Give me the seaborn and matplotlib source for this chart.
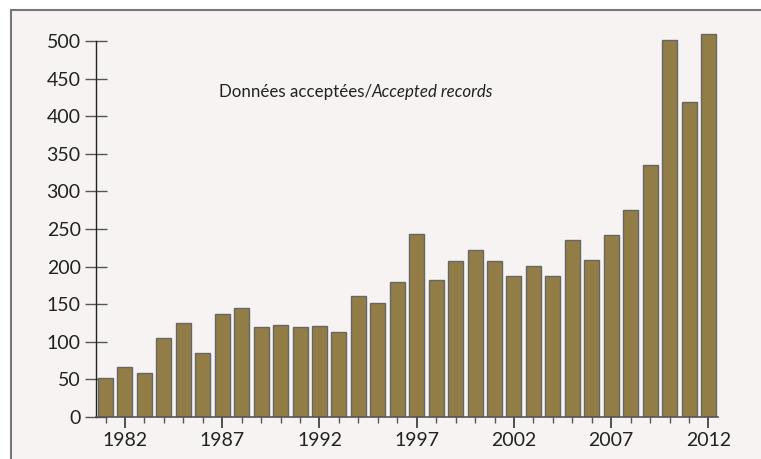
import matplotlib.pyplot as plt
import seaborn as sns
import pandas as pd
from matplotlib.patches import Rectangle
from matplotlib.ticker import MultipleLocator

years = list(range(1981, 2013))
records = [52, 66, 58, 105, 125, 85, 137, 145, 120, 122, 120, 121, 113, 161, 151,
           180, 244, 182, 208, 222, 208, 187, 201, 187, 236, 209, 242, 275, 335, 501, 419, 509]
ytick_values = [0, 50, 100, 150, 200, 250, 300, 350, 400, 450, 500]
xtick_labels = [1982, 1987, 1992, 1997, 2002, 2007, 2012]

df = pd.DataFrame({'year': years, 'records': records})

bg = '#f7f3f3'
bar_color = '#937d47'

sns.set_style('white')
plt.rcParams['font.family'] = ['Lato', 'DejaVu Sans']

fig = plt.figure(figsize=(7.61, 4.59), dpi=100)
fig.patch.set_facecolor('white')
# framed panel (top and left edges visible), kept behind the axes
fig.patches.append(Rectangle((11 / 761, -0.05), 1.2, 1 - 10 / 459 + 0.05,
                             transform=fig.transFigure, facecolor=bg,
                             edgecolor='#777777', linewidth=1.5, zorder=-10))

ymax = 515
bottom = 1 - 417 / 459
height = (ymax * 0.752) / 459
ax = fig.add_axes([96 / 761, bottom, (718 - 96) / 761, height])
ax.set_facecolor('none')
ax.set_zorder(1)

sns.barplot(data=df, x='year', y='records', native_scale=True, width=0.77,
            color=bar_color, saturation=1, edgecolor='#666666', linewidth=1.0, ax=ax)

ax.set_xlim(1980.51, 2012.49)
ax.set_ylim(0, ymax)
ax.set_xlabel('')
ax.set_ylabel('')

for s in ['top', 'right']:
    ax.spines[s].set_visible(False)
ax.spines['left'].set_bounds(0, 500)
ax.spines['left'].set_color('#222222')
ax.spines['bottom'].set_color('#555555')
ax.spines['left'].set_linewidth(1.0)
ax.spines['bottom'].set_linewidth(1.2)

ax.set_yticks(ytick_values)
ax.set_yticklabels([str(v) for v in ytick_values])
ax.tick_params(axis='y', left=True, direction='inout', length=16, width=1.0,
               color='#555555', labelsize=14, pad=3, labelcolor='#222222')

ax.set_xticks(xtick_labels)
ax.set_xticklabels([str(v) for v in xtick_labels])
ax.xaxis.set_minor_locator(MultipleLocator(1))
ax.tick_params(axis='x', which='major', bottom=True, direction='out', length=8,
               width=1.2, color='#333333', labelsize=14, pad=3, labelcolor='#222222')
ax.tick_params(axis='x', which='minor', bottom=True, direction='out', length=4,
               width=1.0, color='#555555')

label_y = 0.839
fs = 12.2
ax.text(0.197, label_y, 'Données acceptées/', transform=ax.transAxes, fontsize=fs,
        color='#222222', va='center', ha='left')
t = ax.text(0.197, label_y, 'Données acceptées/', transform=ax.transAxes, fontsize=fs,
            alpha=0, va='center', ha='left')
fig.canvas.draw()
bb = t.get_window_extent()
x_end = ax.transAxes.inverted().transform((bb.x1, bb.y0))[0]
ax.text(x_end, label_y, 'Accepted records', transform=ax.transAxes, fontsize=fs,
        style='italic', color='#222222', va='center', ha='left')

fig.savefig('out.png', dpi=100)
